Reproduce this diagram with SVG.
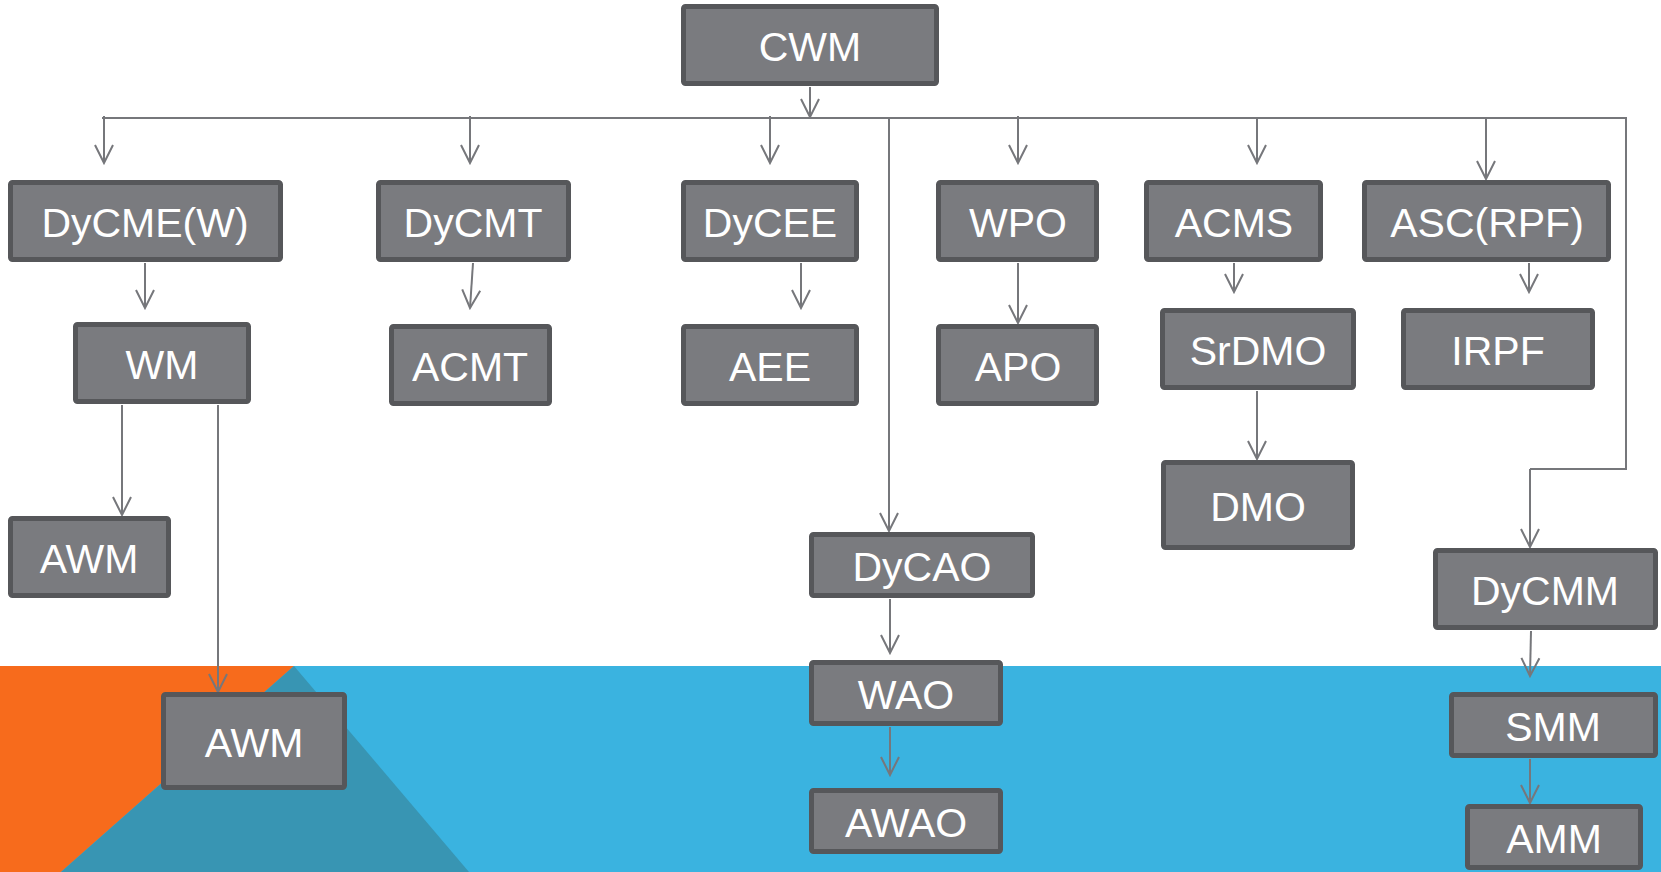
<svg xmlns="http://www.w3.org/2000/svg" width="1661" height="872" viewBox="0 0 1661 872">
<defs>
<style>
.bx{fill:#7A7B7F;stroke:#56575A;stroke-width:5;}
.tx{font-family:"Liberation Sans",Arial,sans-serif;font-size:41px;fill:#FFFFFF;text-anchor:middle;}
.ln{fill:none;stroke:#76777B;stroke-width:2;}
.ar{fill:none;stroke:#76777B;stroke-width:2;marker-end:url(#ah);}
</style>
<marker id="ah" markerWidth="22" markerHeight="22" viewBox="-20 -11 22 22" refX="0" refY="0" markerUnits="userSpaceOnUse" orient="auto">
<path d="M-18,-9 L0,0 L-18,9" fill="none" stroke="#76777B" stroke-width="2"/>
</marker>
</defs>
<rect x="0" y="0" width="1661" height="872" fill="#FFFFFF"/>
<g id="background">
<rect x="0" y="666" width="1661" height="206" fill="#3AB3E0"/>
<polygon points="0,666 294,666 61,872 0,872" fill="#F76B1C"/>
<polygon points="294,666 469,872 61,872" fill="#3895B3"/>
</g>
<g id="connectors">
<path class="ar" d="M810,87 V117"/>
<path class="ln" d="M102,118 H1626 V469 H1530"/>
<path class="ar" d="M1530,469 V547"/>
<path class="ar" d="M104,116 V163"/>
<path class="ar" d="M470,116 V163"/>
<path class="ar" d="M770,116 V163"/>
<path class="ar" d="M1018,116 V163"/>
<path class="ar" d="M1257,118 V163"/>
<path class="ar" d="M1486,118 V179"/>
<path class="ar" d="M889,118 V531"/>
<path class="ar" d="M145,263 V308"/>
<path class="ar" d="M473,263 L470,308"/>
<path class="ar" d="M801,263 V308"/>
<path class="ar" d="M1018,263 V323"/>
<path class="ar" d="M1234,263 V292"/>
<path class="ar" d="M1529,263 V292"/>
<path class="ar" d="M122,405 V515"/>
<path class="ar" d="M218,405 V692"/>
<path class="ar" d="M1257,391 V459"/>
<path class="ar" d="M890,599 V653"/>
<path class="ar" d="M890,727 V775"/>
<path class="ar" d="M1531,631 L1530,676"/>
<path class="ar" d="M1530,759 V803"/>
</g>
<g id="n-cwm"><rect class="bx" x="683.5" y="6.5" width="253" height="77" rx="2"/><text class="tx" x="810" y="61">CWM</text></g>
<g id="n-dycmew"><rect class="bx" x="10.5" y="182.5" width="270" height="77" rx="2"/><text class="tx" x="145" y="237">DyCME(W)</text></g>
<g id="n-dycmt"><rect class="bx" x="378.5" y="182.5" width="190" height="77" rx="2"/><text class="tx" x="473" y="237">DyCMT</text></g>
<g id="n-dycee"><rect class="bx" x="683.5" y="182.5" width="173" height="77" rx="2"/><text class="tx" x="770" y="237">DyCEE</text></g>
<g id="n-wpo"><rect class="bx" x="938.5" y="182.5" width="158" height="77" rx="2"/><text class="tx" x="1018" y="237">WPO</text></g>
<g id="n-acms"><rect class="bx" x="1146.5" y="182.5" width="174" height="77" rx="2"/><text class="tx" x="1234" y="237">ACMS</text></g>
<g id="n-ascrpf"><rect class="bx" x="1364.5" y="182.5" width="244" height="77" rx="2"/><text class="tx" x="1487" y="237">ASC(RPF)</text></g>
<g id="n-wm"><rect class="bx" x="75.5" y="324.5" width="173" height="77" rx="2"/><text class="tx" x="162" y="379">WM</text></g>
<g id="n-acmt"><rect class="bx" x="391.5" y="326.5" width="158" height="77" rx="2"/><text class="tx" x="470" y="381">ACMT</text></g>
<g id="n-aee"><rect class="bx" x="683.5" y="326.5" width="173" height="77" rx="2"/><text class="tx" x="770" y="381">AEE</text></g>
<g id="n-apo"><rect class="bx" x="938.5" y="326.5" width="158" height="77" rx="2"/><text class="tx" x="1018" y="381">APO</text></g>
<g id="n-srdmo"><rect class="bx" x="1162.5" y="310.5" width="191" height="77" rx="2"/><text class="tx" x="1258" y="365">SrDMO</text></g>
<g id="n-irpf"><rect class="bx" x="1403.5" y="310.5" width="189" height="77" rx="2"/><text class="tx" x="1498" y="365">IRPF</text></g>
<g id="n-awm1"><rect class="bx" x="10.5" y="518.5" width="158" height="77" rx="2"/><text class="tx" x="89" y="573">AWM</text></g>
<g id="n-awm2"><rect class="bx" x="163.5" y="694.5" width="181" height="93" rx="2"/><text class="tx" x="254" y="757">AWM</text></g>
<g id="n-dycao"><rect class="bx" x="811.5" y="534.5" width="221" height="61" rx="2"/><text class="tx" x="922" y="581">DyCAO</text></g>
<g id="n-dmo"><rect class="bx" x="1163.5" y="462.5" width="189" height="85" rx="2"/><text class="tx" x="1258" y="521">DMO</text></g>
<g id="n-dycmm"><rect class="bx" x="1435.5" y="550.5" width="220" height="77" rx="2"/><text class="tx" x="1545" y="605">DyCMM</text></g>
<g id="n-wao"><rect class="bx" x="811.5" y="662.5" width="189" height="61" rx="2"/><text class="tx" x="906" y="709">WAO</text></g>
<g id="n-awao"><rect class="bx" x="811.5" y="790.5" width="189" height="61" rx="2"/><text class="tx" x="906" y="837">AWAO</text></g>
<g id="n-smm"><rect class="bx" x="1451.5" y="694.5" width="204" height="61" rx="2"/><text class="tx" x="1553" y="741">SMM</text></g>
<g id="n-amm"><rect class="bx" x="1467.5" y="806.5" width="173" height="61" rx="2"/><text class="tx" x="1554" y="853">AMM</text></g>
</svg>
